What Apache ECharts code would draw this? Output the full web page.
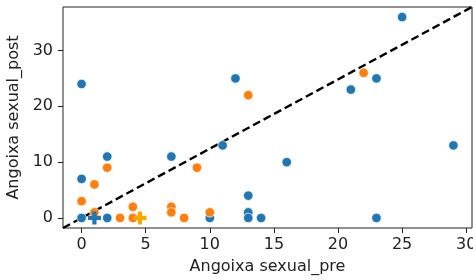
<!DOCTYPE html>
<html>
<head>
<meta charset="utf-8">
<script src="https://cdn.jsdelivr.net/npm/echarts@6/dist/echarts.min.js"></script>
<style>
  html, body { margin: 0; padding: 0; background: #fff; }
  #main { width: 473px; height: 280px; }
</style>
</head>
<body>
<div id="main"></div>
<script>
// blue group: [pre, post]
var bluePoints = [
  [0, 24], [12, 25], [25, 36], [21, 23], [23, 25], [29, 13], [16, 10],
  [13, 4], [13, 1], [13, 0], [14, 0], [23, 0], [11, 13], [7, 11], [2, 11],
  [0, 7], [0, 0], [2, 0], [10, 0]
];
// orange group: [pre, post]
var orangePoints = [
  [22, 26], [13, 22], [2, 9], [9, 9], [1, 6], [0, 3], [1, 1], [3, 0],
  [4, 2], [4, 0], [7, 2], [7, 1], [8, 0], [10, 1]
];
// plus markers
var blueCross = [[1, 0]];
var orangeCross = [[4.55, 0]];

var xTicks = [0, 5, 10, 15, 20, 25, 30];
var yTicks = [0, 10, 20, 30];
var xRange = [-1.45, 30.45];
var yRange = [-1.8, 37.8];
// diagonal from corner to corner of the axes
var diagLine = [[xRange[0], yRange[0]], [xRange[1], yRange[1]]];

var plusPath = 'path://M4.4,0H8.6V4.4H13V8.6H8.6V13H4.4V8.6H0V4.4H4.4Z';
var font = 'DejaVu Sans';

var chart = echarts.init(document.getElementById('main'), null, { renderer: 'canvas' });

var option = {
  backgroundColor: '#fff',
  animation: false,
  grid: {
    left: 63, right: 1, top: 7, bottom: 52,
    containLabel: false, outerBoundsMode: 'none',
    show: true, borderColor: '#222', borderWidth: 1, backgroundColor: 'transparent'
  },
  xAxis: {
    type: 'value',
    min: xRange[0], max: xRange[1],
    name: 'Angoixa sexual_pre',
    nameLocation: 'middle', nameGap: 31,
    nameTextStyle: { fontFamily: font, fontSize: 16, color: '#222' },
    splitLine: { show: false },
    axisLine: { show: false, onZero: false },
    axisTick: { show: true, length: 5, customValues: xTicks, lineStyle: { color: '#222' } },
    axisLabel: { customValues: xTicks, fontFamily: font, fontSize: 16, color: '#222', margin: 9 }
  },
  yAxis: {
    type: 'value',
    min: yRange[0], max: yRange[1],
    name: 'Angoixa sexual_post',
    nameLocation: 'middle', nameGap: 40,
    nameTextStyle: { fontFamily: font, fontSize: 16, color: '#222' },
    splitLine: { show: false },
    axisLine: { show: false, onZero: false },
    axisTick: { show: true, length: 5, customValues: yTicks, lineStyle: { color: '#222' } },
    axisLabel: { customValues: yTicks, fontFamily: font, fontSize: 16, color: '#222', margin: 10 }
  },
  series: [
    {
      type: 'line',
      data: diagLine,
      symbol: 'none',
      clip: true,
      lineStyle: { color: '#000', width: 2.4, type: [8, 4] },
      z: 3
    },
    {
      type: 'scatter',
      data: bluePoints,
      symbolSize: 9.5,
      itemStyle: { color: '#1f77b4', borderColor: '#fff', borderWidth: 0.7, opacity: 1 },
      z: 4
    },
    {
      type: 'scatter',
      data: orangePoints,
      symbolSize: 9.5,
      itemStyle: { color: '#ff7f0e', borderColor: '#fff', borderWidth: 0.7, opacity: 1 },
      z: 5
    },
    {
      type: 'scatter',
      data: blueCross,
      symbol: plusPath,
      symbolSize: 13,
      itemStyle: { color: '#1f77b4', opacity: 1 },
      z: 6
    },
    {
      type: 'scatter',
      data: orangeCross,
      symbol: plusPath,
      symbolSize: 13,
      itemStyle: { color: '#ffa500', opacity: 1 },
      z: 6
    }
  ]
};

chart.setOption(option);
</script>
</body>
</html>
